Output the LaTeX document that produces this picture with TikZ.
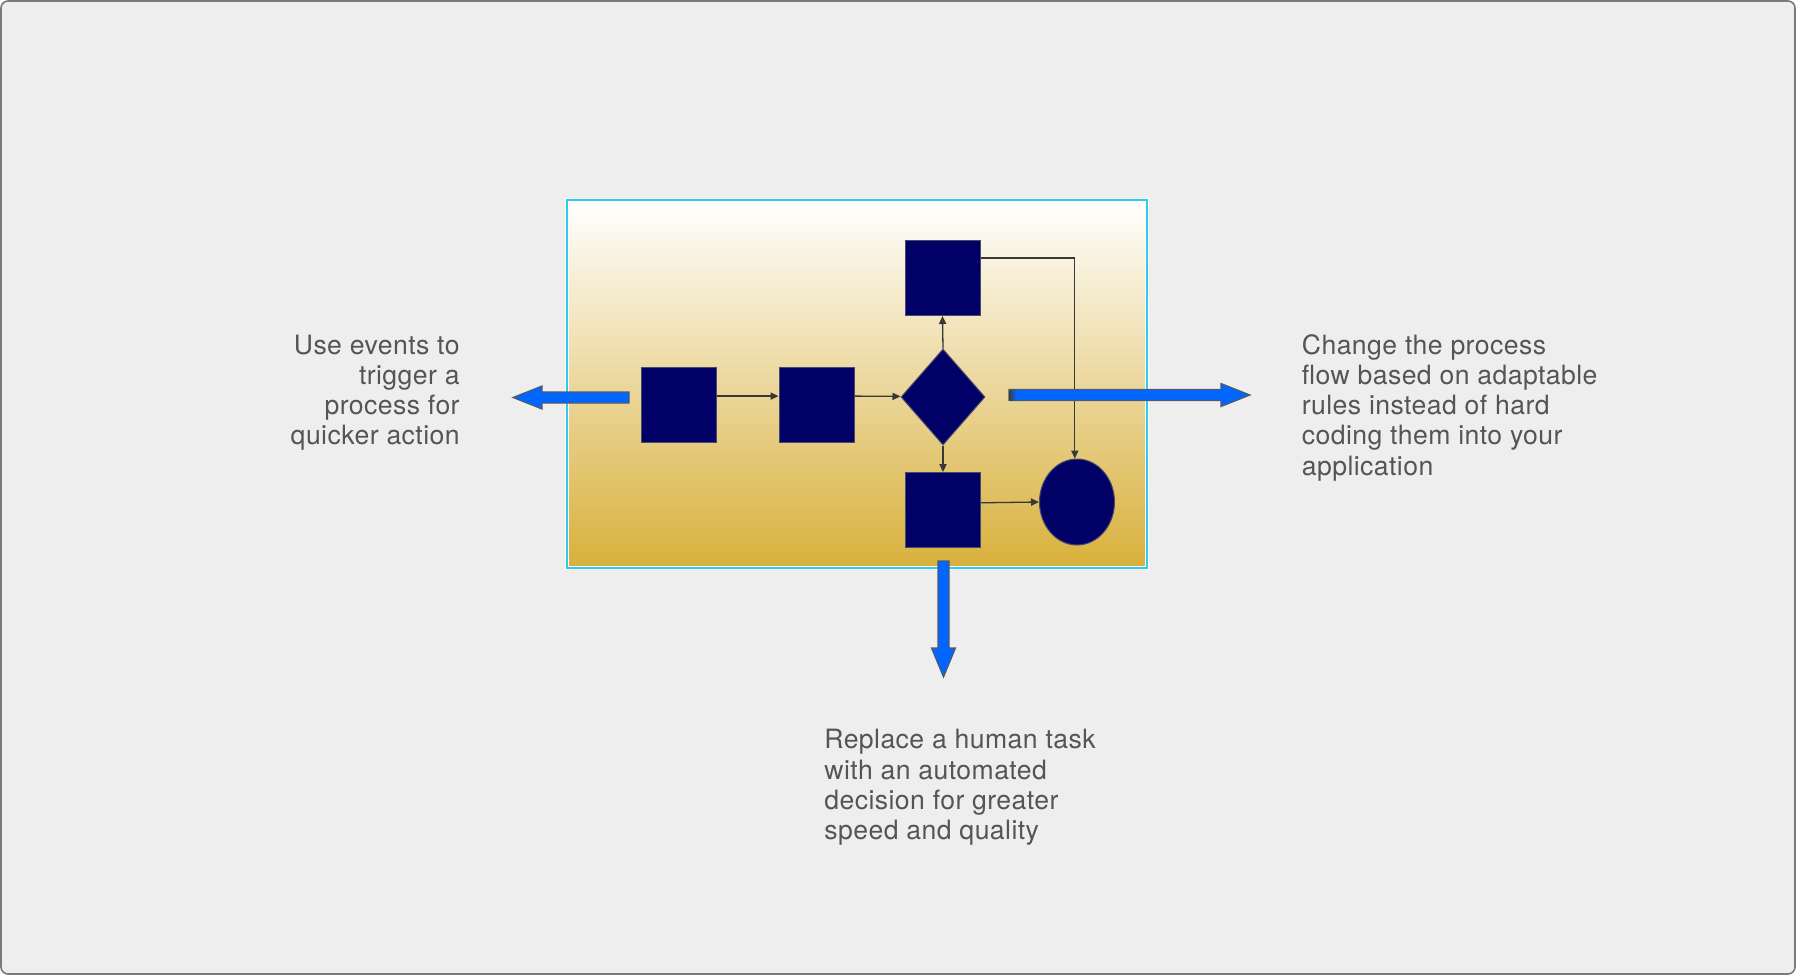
\documentclass[tikz,border=0pt]{standalone}
\usepackage{fontspec}
\setmainfont{TeX Gyre Heros}[LetterSpace=1.6]
\usetikzlibrary{arrows.meta,shapes.geometric}
\definecolor{pagebg}{HTML}{EEEEEE}
\definecolor{pageedge}{HTML}{7A7A7A}
\definecolor{boxgold}{HTML}{D8B03B}
\definecolor{boxcyan}{HTML}{2FCBEA}
\definecolor{tasknavy}{HTML}{000066}
\definecolor{nodeedge}{HTML}{4A4A6E}
\definecolor{flowgray}{HTML}{383838}
\definecolor{bigblue}{HTML}{0066FF}
\definecolor{arrowedge}{HTML}{505A6A}
\definecolor{notegray}{HTML}{555555}

\begin{document}
\begin{tikzpicture}[x=0.5pt, y=-0.5pt,
  main/.style = {draw=nodeedge, fill=tasknavy, line width=0.5pt, minimum size=37.5pt, inner sep=0pt},
  decision/.style = {main, diamond, minimum width=42pt, minimum height=48pt},
  finish/.style = {main, ellipse, minimum width=37.5pt, minimum height=43pt},
  flow/.style = {draw=flowgray, line width=0.65pt, -{Triangle[length=4pt,width=3.6pt]}},
  bigarrow/.style = {draw=arrowedge, fill=bigblue, line width=0.6pt},
  note/.style = {text=notegray, inner sep=0pt, font=\fontsize{13.3}{15.1}\selectfont}]
\useasboundingbox (0,0) rectangle (1796,975);
\draw[fill=pagebg, draw=pageedge, line width=0.8pt, rounded corners=3.5pt] (1,1) rectangle (1795,974);

% process area
\shade[top color=white, bottom color=boxgold] (567,200) rectangle (1147,568);
\draw[white, line width=2pt] (567,200) rectangle (1147,568);
\draw[boxcyan, line width=0.7pt] (567,200) rectangle (1147,568);

% steps
\node[main] (a) at (678.5,404.5) {};
\node[main] (b) at (816.5,404.5) {};
\node[decision] (d) at (943,397) {};
\node[main] (t) at (942.5,278) {};
\node[main] (u) at (943,510) {};
\node[finish] (e) at (1077,502) {};

\draw[flow] ([yshift=4.2pt]a.east) -- ([yshift=4.2pt]b.west);
\draw[flow] ([yshift=4.2pt]b.east) -- ([yshift=0.3pt]d.west);
\draw[flow] (d.north) -- (t.south);
\draw[flow] (d.south) -- (u.north);
\draw[flow] ([yshift=10pt]t.east) -| ([xshift=-1.1pt]e.north);
\draw[flow] ([yshift=3.6pt]u.east) -- (e.west);

% block arrows
\draw[bigarrow] (629,392) -- (542,392) -- (542,386) -- (513,397.5) -- (542,409) -- (542,403) -- (629,403) -- cycle;
\draw[bigarrow] (1009,389.5) -- (1221,389.5) -- (1221,383.5) -- (1250,395) -- (1221,406.5) -- (1221,400.5) -- (1009,400.5) -- cycle;
\shade[left color=arrowedge!70!black, right color=bigblue] (1009.5,390) rectangle (1016,400);
\draw[bigarrow] (938,561) -- (949,561) -- (949,648) -- (955.5,648) -- (943.5,677) -- (931.5,648) -- (938,648) -- cycle;

% notes
\node[note, anchor=north east, align=right] (trig) at (460,334.5) {Use events to\\trigger a\\process for\\quicker action};
\node[note, anchor=north west, align=left] (rules) at (1301.5,334) {Change the process\\flow based on adaptable\\rules instead of hard\\coding them into your\\application};
\node[note, anchor=north west, align=left] (human) at (824,729) {Replace a human task\\with an automated\\decision for greater\\speed and quality};
\end{tikzpicture}
\end{document}
